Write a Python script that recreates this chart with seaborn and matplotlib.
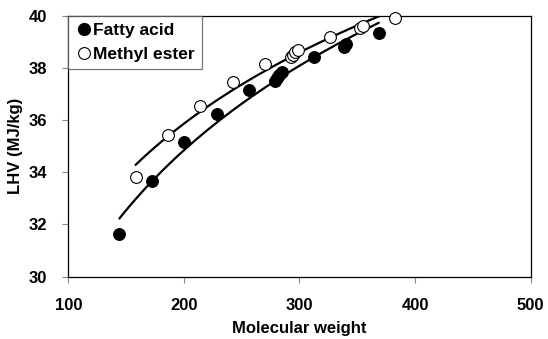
import matplotlib
matplotlib.use("Agg")
import matplotlib.pyplot as plt
import seaborn as sns
import pandas as pd
from matplotlib.lines import Line2D

sns.set_theme(style="white")
plt.rcParams['font.family'] = ['Liberation Sans', 'DejaVu Sans']
plt.rcParams['text.color'] = 'black'
plt.rcParams['axes.labelcolor'] = 'black'
plt.rcParams['xtick.color'] = 'black'
plt.rcParams['ytick.color'] = 'black'

# Data
fatty_mw = [144.2, 172.3, 200.3, 228.4, 256.4, 278.4, 280.4, 282.5, 284.5, 312.5, 338.6, 340.6, 368.6]
fatty_lhv = [31.64, 33.67, 35.15, 36.25, 37.14, 37.50, 37.62, 37.74, 37.86, 38.42, 38.80, 38.92, 39.33]
ester_mw = [158.2, 186.3, 214.3, 242.4, 270.5, 292.5, 294.5, 296.5, 298.5, 326.6, 352.6, 354.6, 382.7]
ester_lhv = [33.82, 35.41, 36.53, 37.45, 38.16, 38.40, 38.50, 38.60, 38.70, 39.18, 39.52, 39.60, 39.90]
x_ticks = [100, 200, 300, 400, 500]
y_ticks = [30, 32, 34, 36, 38, 40]

fatty = pd.DataFrame({"mw": fatty_mw, "lhv": fatty_lhv})
ester = pd.DataFrame({"mw": ester_mw, "lhv": ester_lhv})

fig = plt.figure(figsize=(5.48, 3.39), dpi=100)
ax = fig.add_axes([0.1246, 0.1838, 0.9684 - 0.1246, 0.9537 - 0.1838])

sns.regplot(data=fatty, x="mw", y="lhv", logx=True, ci=None, ax=ax,
            scatter_kws=dict(s=72, color="black", edgecolors="black", linewidths=0.8,
                             alpha=1, clip_on=False, zorder=3),
            line_kws=dict(color="black", lw=1.6), label="Fatty acid")
sns.regplot(data=ester, x="mw", y="lhv", logx=True, ci=None, ax=ax,
            scatter_kws=dict(s=72, facecolors="white", edgecolors="black", linewidths=0.8,
                             alpha=1, clip_on=False, zorder=3),
            line_kws=dict(color="black", lw=1.6), label="Methyl ester")

ax.set_xlim(100, 500)
ax.set_ylim(30, 40)
ax.set_xticks(x_ticks)
ax.set_yticks(y_ticks)
ax.set_xticklabels([str(v) for v in x_ticks], fontsize=12, fontweight="bold")
ax.set_yticklabels([str(v) for v in y_ticks], fontsize=12, fontweight="bold")
ax.tick_params(axis="both", direction="out", length=4, width=0.8, color="#888888",
               bottom=True, left=True)
ax.tick_params(axis="x", pad=11)
ax.tick_params(axis="y", pad=11)
for sp in ax.spines.values():
    sp.set_visible(True)
    sp.set_color("black")
    sp.set_linewidth(0.9)

ax.set_xlabel("Molecular weight", fontsize=12, fontweight="bold", labelpad=6)
ax.set_ylabel("LHV (MJ/kg)", fontsize=12, fontweight="bold", labelpad=4)

handles = [
    Line2D([], [], marker="o", ls="none", color="black", markersize=8.5),
    Line2D([], [], marker="o", ls="none", markerfacecolor="white",
           markeredgecolor="black", markersize=8.5, markeredgewidth=0.8),
]
leg = ax.legend(handles, ["Fatty acid", "Methyl ester"], loc="upper left",
                borderaxespad=0, frameon=True, fancybox=False,
                prop=dict(size=12.5, weight="bold"), handletextpad=0.05,
                handlelength=1.0, borderpad=0.4, labelspacing=0.55)
leg.get_frame().set_edgecolor("#555555")
leg.get_frame().set_linewidth(0.9)

fig.savefig("out.png", dpi=100)
